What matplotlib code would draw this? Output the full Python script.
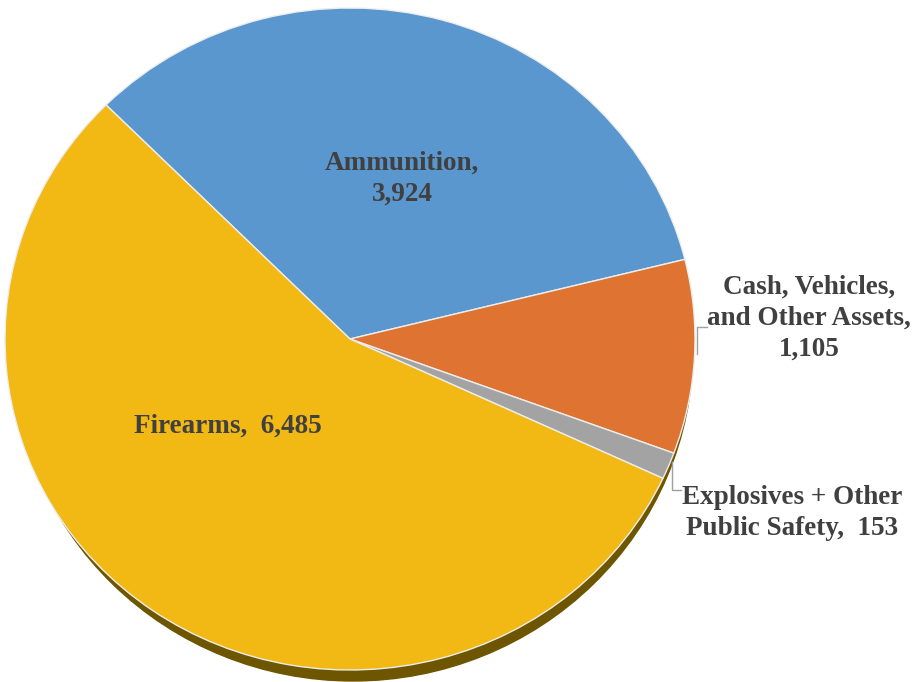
import numpy as np
import matplotlib.pyplot as plt
from matplotlib.patches import Ellipse

labels = ["Ammunition", "Cash, Vehicles, and Other Assets", "Explosives + Other Public Safety", "Firearms"]
values = [3924, 1105, 153, 6485]
colors = ["#5B97CF", "#DF7432", "#A3A3A3", "#F2B813"]

W, H = 913, 682
fig = plt.figure(figsize=(W / 100, H / 100), dpi=100)
ax = fig.add_axes([0, 0, 1, 1])

# pie geometry in pixels (from top-left)
cx, cy, rx, ry = 350, 339, 345, 331


def to_data(xp, yp):
    return (xp - cx) / rx, (cy - yp) / ry


# shadow under the pie
sx, sy = to_data(353, 350)
ax.add_patch(Ellipse((sx, sy), 1.97, 2.0, color="#6E5600", zorder=0))

wedges, _ = ax.pie(values, colors=colors, startangle=135, counterclock=False,
                   wedgeprops=dict(edgecolor="#EDEDED", linewidth=1.0))
for w in wedges:
    w.set_zorder(1)

ax.set_aspect("auto")
ax.set_xlim((0 - cx) / rx, (W - cx) / rx)
ax.set_ylim((cy - H) / ry, cy / ry)
ax.axis("off")

font = dict(family="Liberation Serif", weight="bold", fontsize=19.5, color="#404040")

ax.text(*to_data(402, 179), "Ammunition,\n3,924", ha="center", va="center",
        linespacing=1.3, **font)
ax.text(*to_data(228, 426), "Firearms,  6,485", ha="center", va="center", **font)
ax.text(*to_data(809, 318), "Cash, Vehicles,\nand Other Assets,\n1,105", ha="center",
        va="center", linespacing=1.3, **font)
ax.text(*to_data(792, 513), "Explosives + Other\nPublic Safety,  153", ha="center",
        va="center", linespacing=1.3, **font)

# leader lines
lc = "#A0A0A0"
x0, y0 = to_data(697, 354)
x1, y1 = to_data(697, 327)
x2, y2 = to_data(707, 327)
ax.plot([x0, x1, x2], [y0, y1, y2], color=lc, lw=1, zorder=3)
x0, y0 = to_data(672, 462)
x1, y1 = to_data(672, 490)
x2, y2 = to_data(681, 490)
ax.plot([x0, x1, x2], [y0, y1, y2], color=lc, lw=1, zorder=3)

fig.savefig("out.png", dpi=100, facecolor="white")
